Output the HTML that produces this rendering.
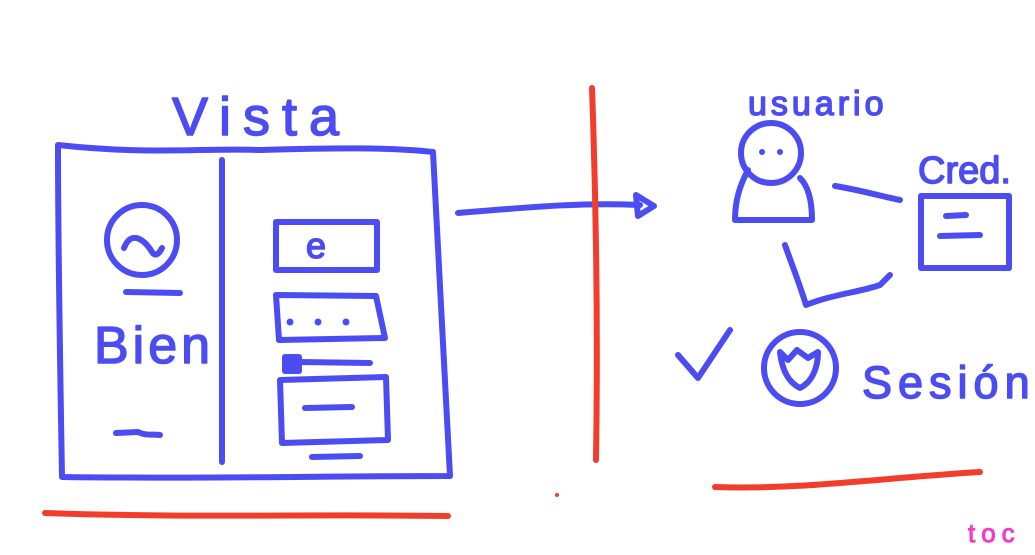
<!DOCTYPE html>
<html><head><meta charset="utf-8"><style>
html,body{margin:0;padding:0;background:#fff;}
svg{display:block}
text{font-family:"Liberation Sans",sans-serif;}
</style></head><body>
<svg width="1035" height="555" viewBox="0 0 1035 555" xmlns="http://www.w3.org/2000/svg">
<g fill="none" stroke="#4b4cf2" stroke-width="6" stroke-linecap="round" stroke-linejoin="round">
  <g>
    <path d="M58,145 C150,155 200,148 260,150 C330,148 390,147 433,152 C438,250 445,380 450,476 C330,476 180,479 62,477 C60,360 58,250 58,145 Z"/>
    <path d="M222,160 L222,462"/>
  </g>
  <circle cx="142" cy="240" r="35"/>
  <path d="M124,248 C132,228 146,242 152,252 C156,258 160,252 162,248"/>
  <path d="M126,292 L180,293"/>
  <path d="M116,433 L138,432 C146,436 152,434 160,435"/>
  <rect x="276" y="222" width="101" height="48"/>
  <path d="M276,295 L376,296 L385,338 L279,340 Z"/>
  <rect x="285" y="357" width="14" height="14" fill="#4b4cf2"/>
  <path d="M300,362 L370,363"/>
  <path d="M280,380 L386,377 L388,440 L282,443 Z"/>
  <path d="M305,408 L352,407"/>
  <path d="M312,457 L360,456"/>
  <path d="M458,213 C520,208 580,202 640,205"/>
  <path d="M636,195 L654,206 L638,216 Z"/>
  <circle cx="771" cy="153" r="30"/>
  <path d="M748,170 C740,185 735,200 735,220 L812,220 C812,200 808,186 800,178"/>
  <path d="M835,186 C860,190 880,196 900,200"/>
  <rect x="921" y="196" width="88" height="72"/>
  <path d="M946,216 L966,215 M940,236 L980,235"/>
  <path d="M785,245 C792,265 800,285 806,305 C830,295 860,292 880,285 L890,275"/>
  <path d="M678,355 L698,378 L730,330"/>
  <circle cx="800" cy="368" r="36"/>
  <path d="M780,352 L788,360 L797,350 L808,358 L818,352 C818,368 812,382 800,388 C788,382 782,370 780,352 Z"/>
</g>
<g fill="#4b4cf2" stroke="none">
  <circle cx="762" cy="152" r="3"/><circle cx="780" cy="152" r="3"/>
  <circle cx="290" cy="322" r="3.5"/><circle cx="318" cy="322" r="3.5"/><circle cx="346" cy="322" r="3.5"/>
</g>
<g fill="#4b4cf2" stroke="#4b4cf2" stroke-width="1.5" stroke-linejoin="round">
  <text x="172" y="135" font-size="54" letter-spacing="12">Vista</text>
  <text x="94" y="363" font-size="52" letter-spacing="4">Bien</text>
  <text x="306" y="258" font-size="36">e</text>
  <text x="748" y="115" font-size="34" letter-spacing="4">usuario</text>
  <text x="918" y="183" font-size="38">Cred.</text>
  <text x="862" y="398" font-size="45" letter-spacing="6">Sesión</text>
</g>
<g fill="none" stroke="#f23d2c" stroke-width="6" stroke-linecap="round">
  <path d="M592,88 C596,200 598,330 596,460"/>
  <path d="M45,513 C180,518 320,514 448,516"/>
  <path d="M715,487 C800,490 880,478 980,472"/>
</g>
<circle cx="557" cy="495" r="2" fill="#f23d2c"/>
<text x="968" y="542" font-size="26" fill="#f03cc8" stroke="#f03cc8" stroke-width="1" letter-spacing="6">toc</text>
</svg>
</body></html>
